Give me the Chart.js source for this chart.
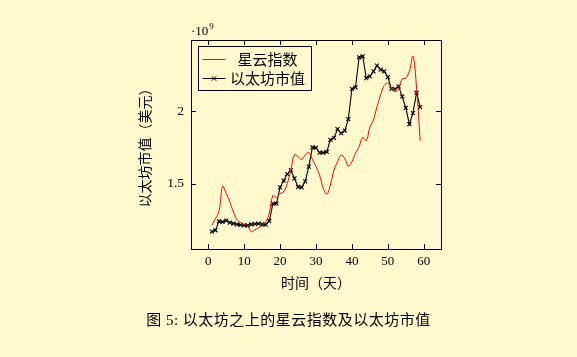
<!DOCTYPE html>
<html><head><meta charset="utf-8">
<script src="https://cdn.jsdelivr.net/npm/chart.js@4"></script>
<style>html,body{margin:0;padding:0;background:#FFFACD;overflow:hidden}</style>
</head><body>
<canvas id="c" width="577" height="357"></canvas>
<script>
// ---- data (values in units of 10^9) ----
const days = [1,2,3,4,5,6,7,8,9,10,11,12,13,14,15,16,17,18,19,20,21,22,23,24,25,26,27,28,29,30,31,32,33,34,35,36,37,38,39,40,41,42,43,44,45,46,47,48,49,50,51,52,53,54,55,56,57,58,59];
const nebulaIndex = [1.214,1.260,1.310,1.482,1.433,1.376,1.306,1.253,1.233,1.221,1.207,1.170,1.184,1.198,1.210,1.237,1.300,1.420,1.405,1.432,1.445,1.502,1.594,1.700,1.687,1.668,1.698,1.714,1.668,1.618,1.560,1.470,1.429,1.491,1.594,1.652,1.698,1.675,1.622,1.652,1.710,1.756,1.820,1.797,1.889,1.940,2.032,2.113,2.177,2.194,2.159,2.136,2.159,2.221,2.228,2.274,2.378,2.159,1.797];
const ethMarketCap = [1.171,1.180,1.242,1.237,1.247,1.233,1.226,1.221,1.217,1.214,1.214,1.221,1.224,1.226,1.221,1.219,1.244,1.364,1.364,1.475,1.521,1.567,1.594,1.537,1.479,1.475,1.516,1.618,1.751,1.749,1.714,1.714,1.719,1.802,1.816,1.876,1.848,1.866,1.945,2.154,2.164,2.371,2.378,2.228,2.240,2.274,2.313,2.286,2.274,2.235,2.154,2.152,2.171,2.101,2.023,1.910,1.986,2.127,2.028];
const xTicks = [0,10,20,30,40,50,60];
const yTicks = [1.5,2];
const seriesNames = ['星云指数','以太坊市值'];
const xTitle = '时间（天）';
const yTitle = '以太坊市值（美元）';
const yExponentBase = '·10';
const yExponent = '9';
const caption = '图 5: 以太坊之上的星云指数及以太坊市值';

const BG = '#FFFACD';
const SERIF = "'Liberation Serif','Noto Sans CJK SC',serif";
const CJK = "'Noto Sans CJK SC','Liberation Serif',sans-serif";

const decor = {
  id: 'decor',
  beforeDraw(chart) {
    const ctx = chart.ctx;
    ctx.save();
    ctx.fillStyle = BG;
    ctx.fillRect(0, 0, chart.width, chart.height);
    ctx.restore();
  },
  afterDraw(chart) {
    const ctx = chart.ctx;
    const a = chart.chartArea;
    const xs = chart.scales.x, ys = chart.scales.y;
    ctx.save();
    // frame
    ctx.strokeStyle = '#000';
    ctx.lineWidth = 1;
    ctx.strokeRect(Math.round(a.left) + 0.5, Math.round(a.top) + 0.5, Math.round(a.right - a.left), Math.round(a.bottom - a.top));
    // inward ticks
    const tl = 5;
    ctx.beginPath();
    xs.ticks.forEach(t => {
      const px = Math.round(xs.getPixelForValue(t.value)) + 0.5;
      ctx.moveTo(px, a.bottom); ctx.lineTo(px, a.bottom - tl);
      ctx.moveTo(px, a.top); ctx.lineTo(px, a.top + tl);
    });
    ys.ticks.forEach(t => {
      const py = Math.round(ys.getPixelForValue(t.value)) + 0.5;
      ctx.moveTo(a.left, py); ctx.lineTo(a.left + tl, py);
      ctx.moveTo(a.right, py); ctx.lineTo(a.right - tl, py);
    });
    ctx.stroke();
    // exponent label
    ctx.fillStyle = '#000';
    ctx.textBaseline = 'alphabetic';
    ctx.textAlign = 'left';
    ctx.font = '13px ' + SERIF;
    ctx.fillText(yExponentBase, a.left, 35);
    const w = ctx.measureText(yExponentBase).width;
    ctx.font = '9px ' + SERIF;
    ctx.fillText(yExponent, a.left + w + 1, 29);
    // legend
    const lx = a.left + 7.5, ly = a.top + 6.5, lw = 113, lh = 44;
    ctx.fillStyle = BG;
    ctx.fillRect(lx, ly, lw, lh);
    ctx.strokeStyle = '#000';
    ctx.strokeRect(lx, ly, lw, lh);
    const ds = chart.data.datasets;
    const rows = [ly + 12, ly + 31];
    ds.forEach((d, i) => {
      const y = Math.round(rows[i]) + 0.5;
      ctx.strokeStyle = d.borderColor;
      ctx.lineWidth = 1;
      ctx.beginPath();
      ctx.moveTo(lx + 4, y); ctx.lineTo(lx + 27, y);
      ctx.stroke();
      if (d.pointRadius > 0) {
        const cx = lx + 15.5, r = 2.2;
        ctx.beginPath();
        ctx.moveTo(cx - r, y - r); ctx.lineTo(cx + r, y + r);
        ctx.moveTo(cx - r, y + r); ctx.lineTo(cx + r, y - r);
        ctx.stroke();
      }
      ctx.fillStyle = '#000';
      ctx.font = '15px ' + CJK;
      ctx.textAlign = 'center';
      ctx.textBaseline = 'middle';
      ctx.fillText(d.label, lx + 69, y);
    });
    // caption
    ctx.font = '15px ' + SERIF;
    if ('letterSpacing' in ctx) ctx.letterSpacing = '0.5px';
    ctx.textAlign = 'center';
    ctx.textBaseline = 'middle';
    ctx.fillStyle = '#000';
    ctx.fillText(caption, 288.5, 321);
    ctx.restore();
  }
};

new Chart(document.getElementById('c'), {
  type: 'line',
  data: {
    datasets: [
      {
        label: seriesNames[0],
        data: days.map((d, i) => ({x: d, y: nebulaIndex[i]})),
        borderColor: '#FF0000',
        borderWidth: 1,
        pointRadius: 0,
        tension: 0.4,
        fill: false
      },
      {
        label: seriesNames[1],
        data: days.map((d, i) => ({x: d, y: ethMarketCap[i]})),
        borderColor: '#000000',
        backgroundColor: '#000000',
        borderWidth: 1.1,
        pointStyle: 'crossRot',
        pointRadius: 2.8,
        pointBorderWidth: 1.1,
        tension: 0,
        fill: false
      }
    ]
  },
  options: {
    responsive: false,
    animation: false,
    devicePixelRatio: 1,
    layout: {padding: {left: 0, right: 136, top: 40, bottom: 0}},
    plugins: {legend: {display: false}, tooltip: {enabled: false}},
    scales: {
      x: {
        type: 'linear',
        min: -4.8, max: 64.8,
        afterBuildTicks: s => { s.ticks = xTicks.map(v => ({value: v})); },
        afterFit: s => { s.height = 108; },
        grid: {display: false, drawTicks: false},
        border: {display: false},
        ticks: {color: '#000', padding: 5, font: {family: SERIF, size: 13}, maxRotation: 0},
        title: {display: true, text: xTitle, color: '#000', font: {family: CJK, size: 14}, padding: {top: 0, bottom: 66}}
      },
      y: {
        type: 'linear',
        min: 1.051, max: 2.49,
        afterBuildTicks: s => { s.ticks = yTicks.map(v => ({value: v})); },
        afterFit: s => { s.width = 191; },
        grid: {display: false, drawTicks: false},
        border: {display: false},
        ticks: {color: '#000', padding: 7, font: {family: SERIF, size: 13.5}, callback: v => String(v)},
        title: {display: true, text: yTitle, color: '#000', font: {family: CJK, size: 14}, padding: {top: 136.5, bottom: 0}}
      }
    }
  },
  plugins: [decor]
});
</script>
</body></html>
